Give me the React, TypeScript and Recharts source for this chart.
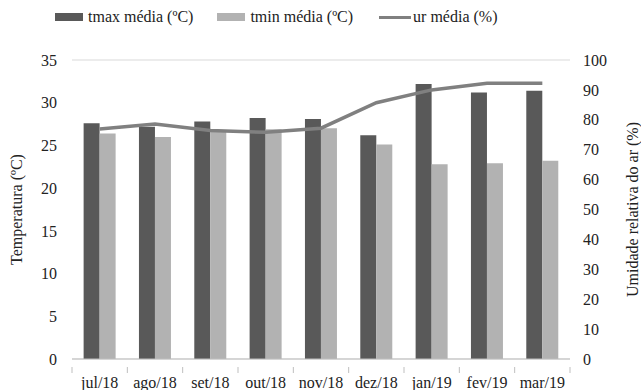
import React from 'react';
import {
    ComposedChart, Bar, Line, XAxis, YAxis, CartesianGrid
} from 'recharts';

// --- Data ---
const MONTHS = ['jul/18', 'ago/18', 'set/18', 'out/18', 'nov/18', 'dez/18', 'jan/19', 'fev/19', 'mar/19'];
const TMAX = [27.6, 27.2, 27.8, 28.2, 28.1, 26.2, 32.2, 31.2, 31.4];
const TMIN = [26.4, 26.0, 26.7, 26.9, 27.0, 25.1, 22.8, 22.9, 23.2];
const UR = [76.9, 78.6, 76.4, 75.8, 77.2, 85.7, 90.0, 92.2, 92.2];
const TEMP_TICKS = [0, 5, 10, 15, 20, 25, 30, 35];
const UR_TICKS = [0, 10, 20, 30, 40, 50, 60, 70, 80, 90, 100];

const data = MONTHS.map((m, i) => ({ name: m, tmax: TMAX[i], tmin: TMIN[i], ur: UR[i] }));

const FONT = '"Liberation Serif", "DejaVu Serif", "Liberation Sans", sans-serif';
const DARK = '#595959';
const LIGHT = '#b2b2b2';
const LINE = '#808080';

const WIDTH = 641;
const HEIGHT = 390;
const PLOT_LEFT = 72;
const PLOT_RIGHT = 570;
const BAND = (PLOT_RIGHT - PLOT_LEFT) / MONTHS.length;

// category label plus Excel-style tick marks on the band edges
const MonthTick = ({ x, y, payload, index }: any) => (
    <g>
        <line x1={x - BAND / 2} x2={x - BAND / 2} y1={y} y2={y + 6} stroke="#bfbfbf" />
        {index === MONTHS.length - 1 && (
            <line x1={x + BAND / 2} x2={x + BAND / 2} y1={y} y2={y + 6} stroke="#bfbfbf" />
        )}
        <text x={x} y={y + 21} textAnchor="middle" fill="#222" fontSize={16} fontFamily={FONT}>
            {payload.value}
        </text>
    </g>
);

const LegendBox = () => (
    <div style={{
        position: 'absolute', top: 7, left: 0, width: WIDTH, display: 'flex', alignItems: 'center',
        fontFamily: FONT, fontSize: 16, color: '#222', lineHeight: '20px',
    }}>
        <span style={{ display: 'inline-block', width: 28, height: 8, background: DARK, marginLeft: 55, marginRight: 5 }} />
        <span>tmax média (ºC)</span>
        <span style={{ display: 'inline-block', width: 28, height: 8, background: LIGHT, marginLeft: 24, marginRight: 5 }} />
        <span>tmin média (ºC)</span>
        <span style={{ display: 'inline-block', width: 32, height: 3, background: LINE, marginLeft: 26, marginRight: 2 }} />
        <span>ur média (%)</span>
    </div>
);

export default function App() {
    return (
        <div style={{ position: 'absolute', left: 0, top: 0, width: WIDTH, height: HEIGHT, background: '#fff' }}>
            <LegendBox />
            <ComposedChart
                width={WIDTH}
                height={HEIGHT}
                data={data}
                margin={{ top: 60, right: 0, bottom: 0, left: 0 }}
                barCategoryGap="21%"
                barGap={0}
            >
                <CartesianGrid vertical={false} stroke="#d9d9d9" />
                <XAxis
                    dataKey="name"
                    height={31}
                    axisLine={{ stroke: '#bfbfbf' }}
                    tickLine={false}
                    tick={<MonthTick />}
                    interval={0}
                />
                <YAxis
                    yAxisId="t"
                    width={72}
                    domain={[0, 35]}
                    ticks={TEMP_TICKS}
                    axisLine={false}
                    tickLine={false}
                    tickSize={0}
                    tickMargin={15}
                    tick={{ fill: '#222', fontSize: 16, fontFamily: FONT }}
                    label={{
                        value: 'Temperatura (ºC)', angle: -90, position: 'insideLeft', dx: 11,
                        style: { textAnchor: 'middle', fill: '#222', fontSize: 16, fontFamily: FONT },
                    }}
                />
                <YAxis
                    yAxisId="ur"
                    orientation="right"
                    width={71}
                    domain={[0, 100]}
                    ticks={UR_TICKS}
                    axisLine={false}
                    tickLine={false}
                    tickSize={0}
                    tickMargin={13}
                    tick={{ fill: '#222', fontSize: 16, fontFamily: FONT, textAnchor: 'start' }}
                    label={{
                        value: 'Umidade relativa do ar (%)', angle: -90, position: 'insideRight', dx: -4,
                        style: { textAnchor: 'middle', fill: '#222', fontSize: 16, fontFamily: FONT },
                    }}
                />
                <Bar yAxisId="t" dataKey="tmax" fill={DARK} isAnimationActive={false} />
                <Bar yAxisId="t" dataKey="tmin" fill={LIGHT} isAnimationActive={false} />
                <Line
                    yAxisId="ur"
                    type="linear"
                    dataKey="ur"
                    stroke={LINE}
                    strokeWidth={3.5}
                    dot={false}
                    isAnimationActive={false}
                />
            </ComposedChart>
        </div>
    );
}
